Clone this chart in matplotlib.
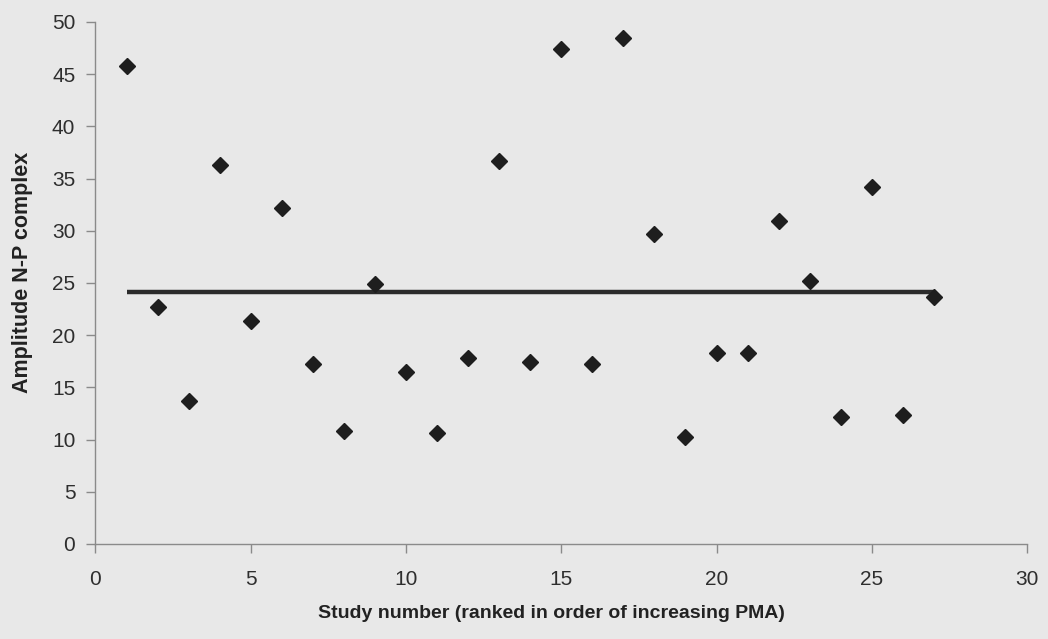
import matplotlib
matplotlib.use("Agg")
import matplotlib.pyplot as plt
import numpy as np

plt.rcParams['font.family'] = ['Liberation Sans', 'DejaVu Sans']

# Study number (ranked by increasing PMA) and N-P complex amplitude
study = list(range(1, 28))
amplitude = [45.8, 22.7, 13.7, 36.3, 21.4, 32.2, 17.2, 10.8, 24.9, 16.5,
             10.6, 17.8, 36.7, 17.4, 47.4, 17.2, 48.5, 29.7, 10.2, 18.3,
             18.3, 30.9, 25.2, 12.2, 34.2, 12.4, 23.7]
mean_amp = float(np.mean(amplitude))

x_ticks = [0, 5, 10, 15, 20, 25, 30]
y_ticks = [0, 5, 10, 15, 20, 25, 30, 35, 40, 45, 50]

bg = '#e8e8e8'
text_col = '#2e2e2e'
axis_col = '#8a8a8a'

fig = plt.figure(figsize=(10.48, 6.39), dpi=100, facecolor=bg)
ax = fig.add_axes([0.0911, 0.1487, 0.8889, 0.8169])
ax.set_facecolor(bg)

ax.plot([study[0], study[-1]], [mean_amp, mean_amp], color='#2b2b2b', lw=3.2,
        solid_capstyle='butt', zorder=2)
ax.plot(study, amplitude, linestyle='none', marker='D', markersize=7.8,
        color='#1e1e1e', zorder=3)

ax.set_xlim(0, 30)
ax.set_ylim(0, 50)
ax.set_xticks(x_ticks)
ax.set_yticks(y_ticks)

for side in ('top', 'right'):
    ax.spines[side].set_visible(False)
for side in ('left', 'bottom'):
    ax.spines[side].set_color(axis_col)
    ax.spines[side].set_linewidth(1.0)

ax.tick_params(axis='both', colors=axis_col, labelcolor=text_col,
               labelsize=15, length=6.5, width=1.0, direction='out')
ax.tick_params(axis='x', pad=12)
ax.tick_params(axis='y', pad=8)

ax.set_xlabel('Study number (ranked in order of increasing PMA)',
              fontsize=14, fontweight='bold', color='#222222')
ax.xaxis.set_label_coords(551 / 1048, 1 - 613 / 639, transform=fig.transFigure)
ax.xaxis.label.set_va('center')
ax.set_ylabel('Amplitude N-P complex', fontsize=15.5, fontweight='bold',
              color='#222222')
ax.yaxis.set_label_coords(22.7 / 1048, 1 - 272 / 639, transform=fig.transFigure)
ax.yaxis.label.set_va('center')

fig.savefig('out.png', dpi=100, facecolor=bg)
